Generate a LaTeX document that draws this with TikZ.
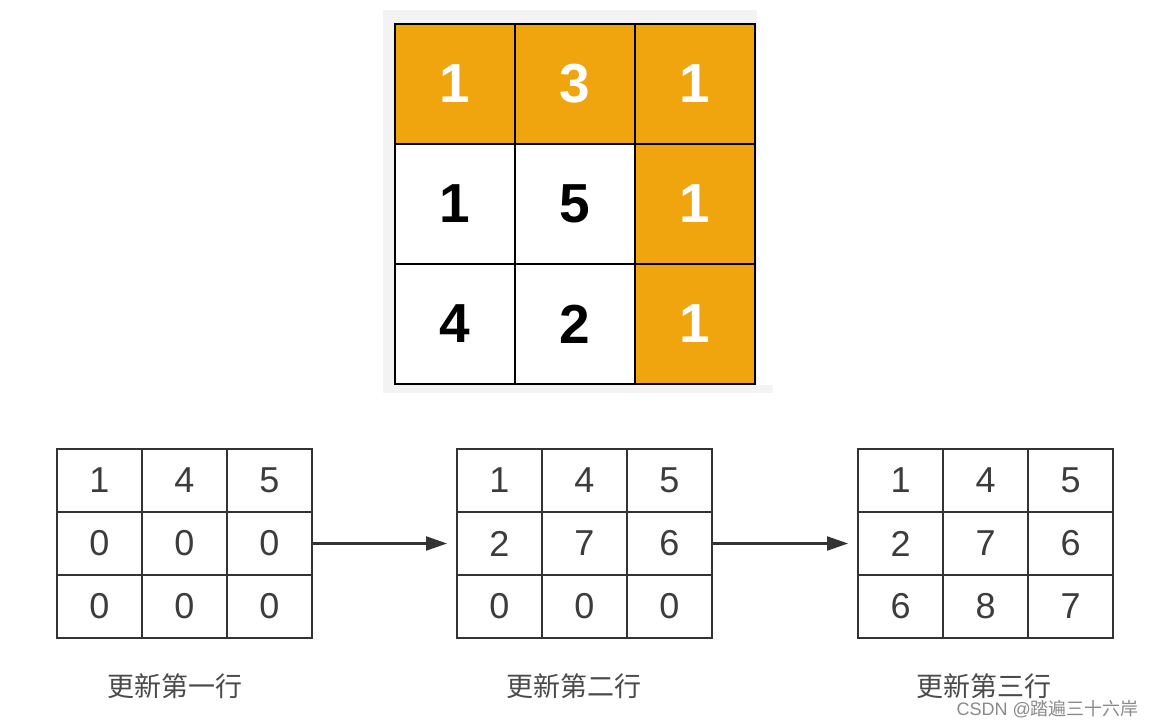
\documentclass[tikz,border=0pt]{standalone}
\usepackage{fontspec}
\setmainfont{Liberation Sans}
\newfontfamily\cjk{Noto Sans CJK SC}
\usetikzlibrary{arrows.meta}
\definecolor{orng}{HTML}{F0A50F}
\definecolor{gline}{HTML}{333333}
\definecolor{gtext}{HTML}{3C3C3C}
\definecolor{lbl}{HTML}{4A4A4A}
\definecolor{wm}{HTML}{8A8A8A}
\definecolor{bgshade}{HTML}{F3F3F3}
\tikzset{
  bigcell/.style={draw=black, line width=2.8pt, minimum width=120pt, minimum height=120pt, inner sep=0pt, outer sep=0pt, font=\fontsize{55}{60}\selectfont\bfseries},
  hot/.style={bigcell, fill=orng, text=white},
  cold/.style={bigcell, fill=white, text=black},
  smallcell/.style={draw=gline, line width=2.6pt, minimum width=85pt, minimum height=63pt, inner sep=0pt, outer sep=0pt, text=gtext, font=\fontsize{36}{40}\selectfont},
  gridbox/.style={draw=gline, line width=2.6pt, minimum width=255pt, minimum height=189pt, inner sep=0pt, outer sep=0pt},
  caption/.style={text=lbl, font=\cjk\fontsize{27}{30}\selectfont},
  flow/.style={draw=gline, line width=2.2pt, -{Triangle[length=21pt,width=14pt]}, shorten >=10pt}
}
\begin{document}
\begin{tikzpicture}[x=1pt,y=-1pt]
\useasboundingbox (0,0) rectangle (1151,728);
\fill[white] (0,0) rectangle (1151,728);
% shaded backdrop
\fill[bgshade] (383,10) rectangle (773,393);
\fill[white] (757,10) rectangle (773,385);
% top grid
\node[hot]  (t11) at (455,84)  {1};
\node[hot]  (t12) at (575,84)  {3};
\node[hot]  (t13) at (695,84)  {1};
\node[cold] (t21) at (455,204) {1};
\node[cold] (t22) at (575,204) {5};
\node[hot]  (t23) at (695,204) {1};
\node[cold] (t31) at (455,324) {4};
\node[cold] (t32) at (575,324) {2};
\node[hot]  (t33) at (695,324) {1};
% bottom grids
\foreach \g/\x/\a/\b/\c/\d/\e/\f/\h/\i/\j in {
  1/57/1/4/5/0/0/0/0/0/0,
  2/457/1/4/5/2/7/6/0/0/0,
  3/858/1/4/5/2/7/6/6/8/7}{
  \node[gridbox] (g\g) at (\x+127.5,543.5) {};
  \node[smallcell] (g\g-11) at (\x+42.5,480.5) {\a};
  \node[smallcell] (g\g-12) at (\x+127.5,480.5) {\b};
  \node[smallcell] (g\g-13) at (\x+212.5,480.5) {\c};
  \node[smallcell] (g\g-21) at (\x+42.5,543.5) {\d};
  \node[smallcell] (g\g-22) at (\x+127.5,543.5) {\e};
  \node[smallcell] (g\g-23) at (\x+212.5,543.5) {\f};
  \node[smallcell] (g\g-31) at (\x+42.5,606.5) {\h};
  \node[smallcell] (g\g-32) at (\x+127.5,606.5) {\i};
  \node[smallcell] (g\g-33) at (\x+212.5,606.5) {\j};
}
\draw[flow] (g1.east) -- (g2.west);
\draw[flow] (g2.east) -- (g3.west);
% captions
\node[caption] (c1) at (175,686) {更新第一行};
\node[caption] (c2) at (574,686) {更新第二行};
\node[caption] (c3) at (984,686) {更新第三行};
% watermark
\node[text=wm, font=\fontsize{18}{20}\selectfont, anchor=east, inner sep=0pt] (wmk) at (1139,709) {CSDN @{\cjk 踏遍三十六岸}};
\end{tikzpicture}
\end{document}
